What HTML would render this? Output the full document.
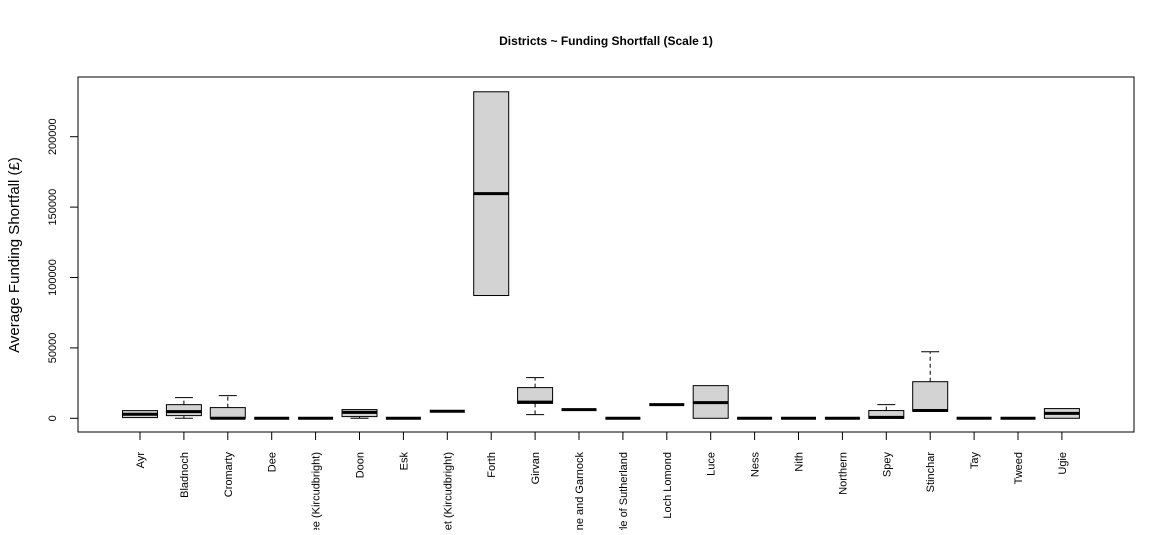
<!DOCTYPE html>
<html><head><meta charset="utf-8"><style>
body{margin:0;background:#fff;}
svg text{font-family:"Liberation Sans",Arial,sans-serif;}
</style></head><body>
<svg id="chart" width="1175" height="530" xmlns="http://www.w3.org/2000/svg">
<text x="606" y="45" text-anchor="middle" font-size="12" font-weight="bold">Districts ~ Funding Shortfall (Scale 1)</text>
<text transform="translate(19,255) rotate(-90)" text-anchor="middle" font-size="15">Average Funding Shortfall (£)</text>
<rect x="78" y="77" width="1056" height="355" fill="none" stroke="#000" stroke-width="1"/>
<g id="yaxis"></g>
<g id="xaxis"></g>
<g id="boxes"></g>
</svg>
<script>
const categories=["Ayr","Bladnoch","Cromarty","Dee","Dee (Kircudbright)","Doon","Esk","Fleet (Kircudbright)","Forth","Girvan","Irvine and Garnock","Kyle of Sutherland","Loch Lomond","Luce","Ness","Nith","Northern","Spey","Stinchar","Tay","Tweed","Ugie"];
const whiskerLow=[500,0,0,0,0,0,0,5000,87200,2600,6200,0,9700,0,0,0,0,0,5000,0,0,0];
const q1=[500,1900,0,0,0,1200,0,5000,87200,10600,6200,0,9700,0,0,0,0,0,5000,0,0,0];
const medians=[2840,4750,0,0,0,4250,0,5000,159600,11500,6200,0,9700,11100,0,0,0,700,5500,0,0,3500];
const q3=[5460,9700,7600,0,0,6200,0,5000,231900,21800,6200,0,9700,23200,0,0,0,5500,26000,0,0,6900];
const whiskerHigh=[5460,14700,16100,0,0,6200,0,5000,231900,28900,6200,0,9700,23200,0,0,0,9700,47300,0,0,6900];
const yTicks=[0,50000,100000,150000,200000];

const NS="http://www.w3.org/2000/svg";
const y=v=>418.3-v*(281.6/200000);
const x=i=>140+i*43.9;
function mk(tag,attrs,parent){const e=document.createElementNS(NS,tag);for(const k in attrs)e.setAttribute(k,attrs[k]);parent.appendChild(e);return e;}
const ya=document.getElementById('yaxis'),xa=document.getElementById('xaxis'),bx=document.getElementById('boxes');
mk('line',{x1:78,x2:78,y1:y(0),y2:y(200000),stroke:'#000'},ya);
yTicks.forEach(t=>{
  const l=mk('line',{x1:70,x2:78,y1:y(t),y2:y(t),stroke:'#000'},ya);
  
  
  const tx=mk('text',{transform:`translate(56,${y(t)}) rotate(-90)`,'text-anchor':'middle','font-size':'11'},ya);
  tx.textContent=t;
  
  
});
categories.forEach((c,i)=>{
  const cx=x(i);
  const tk=mk('line',{x1:cx,x2:cx,y1:432,y2:440,stroke:'#000'},xa);
  
  
  const tx=mk('text',{transform:`translate(${cx+4},452) rotate(-90)`,'text-anchor':'end','font-size':'11'},xa);
  tx.textContent=c;
  
  
  const g=mk('g',{},bx);
  
  
  const hw=17.5;
  if(whiskerHigh[i]>q3[i]){
    mk('line',{x1:cx,x2:cx,y1:y(q3[i]),y2:y(whiskerHigh[i]),stroke:'#000','stroke-dasharray':'4,3'},g);
    mk('line',{x1:cx-9,x2:cx+9,y1:y(whiskerHigh[i]),y2:y(whiskerHigh[i]),stroke:'#000'},g);
  }
  if(whiskerLow[i]<q1[i]){
    mk('line',{x1:cx,x2:cx,y1:y(q1[i]),y2:y(whiskerLow[i]),stroke:'#000','stroke-dasharray':'4,3'},g);
    mk('line',{x1:cx-9,x2:cx+9,y1:y(whiskerLow[i]),y2:y(whiskerLow[i]),stroke:'#000'},g);
  }
  mk('rect',{x:cx-hw,y:y(q3[i]),width:hw*2,height:Math.max(0,y(q1[i])-y(q3[i])),fill:'#d3d3d3',stroke:'#000','stroke-width':1},g);
  mk('line',{x1:cx-hw,x2:cx+hw,y1:y(medians[i]),y2:y(medians[i]),stroke:'#000','stroke-width':3},g);
});
</script>
</body></html>
